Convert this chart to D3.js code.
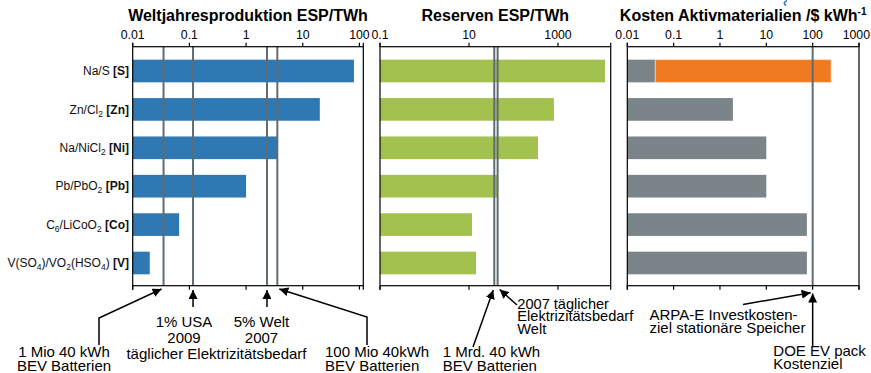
<!DOCTYPE html>
<html>
<head>
<meta charset="utf-8">
<script src="https://cdn.jsdelivr.net/npm/d3@7"></script>
<style>
  body { margin: 0; background: #fff; }
  svg { display: block; font-family: "Liberation Sans", Arial, sans-serif; }
</style>
</head>
<body>
<svg id="chart" width="871" height="373"></svg>
<script>
// categories, "_x" marks a subscript
const categories = ["Na/S", "Zn/Cl_2", "Na/NiCl_2", "Pb/PbO_2", "C_6/LiCoO_2", "V(SO_4)/VO_2(HSO_4)"];
const elements = ["S", "Zn", "Ni", "Pb", "Co", "V"];

const production = [80, 20, 3.6, 1.0, 0.066, 0.020];      // TWh / year
const reserves = [11400, 810, 355, 43, 11.7, 14.4];         // TWh
const costs = [0.04, 1.9, 10, 10, 75, 75];                  // $/kWh
const costNaSTotal = 250;                                   // orange part of Na/S

const productionMarks = [0.035, 0.116, 2.34, 3.56];
const reserveMarks = [37, 44];
const costMarks = [100];

const productionTicks = [0.01, 0.1, 1, 10, 100];
const reserveTicks = [0.1, 10, 1000];
const costTicks = [0.01, 0.1, 1, 10, 100, 1000];

const plotTop = 46.7, plotBottom = 285.7;
const lineColor = "#5f6c73";
const W = 871;

const svg = d3.select("#chart");

svg.append("defs").append("marker")
    .attr("id", "arrow")
    .attr("viewBox", "0 0 10 10")
    .attr("refX", 10).attr("refY", 5)
    .attr("markerWidth", 6).attr("markerHeight", 6)
    .attr("markerUnits", "strokeWidth")
    .attr("orient", "auto")
    .append("path")
    .attr("d", "M0,0L10,5L0,10z")
    .attr("fill", "#000");

const y = d3.scaleBand()
    .domain(d3.range(categories.length))
    .range([52, 282])
    .paddingInner(0.41)
    .paddingOuter(0.2);

const panels = [
    {title: "Weltjahresproduktion ESP/TWh", x0: 132.7, x1: 363.3, domain: [0.01, 117],
     values: production, color: "#2e78b4", ticks: productionTicks, marks: productionMarks},
    {title: "Reserven ESP/TWh", x0: 380, x1: 610.7, domain: [0.1, 15300],
     values: reserves, color: "#a3c14e", ticks: reserveTicks, marks: reserveMarks},
    {title: "Kosten Aktivmaterialien /$ kWh", x0: 627.3, x1: 859, domain: [0.01, 1000],
     values: costs, color: "#7b8589", ticks: costTicks, marks: costMarks, sup: "-1"}
];

panels.forEach(p => {
    p.x = d3.scaleLog().domain(p.domain).range([p.x0, p.x1]);
    const g = svg.append("g");

    // bars
    g.selectAll("rect.bar")
        .data(p.values)
        .join("rect")
        .attr("class", "bar")
        .attr("x", p.x(p.domain[0]))
        .attr("y", (d, i) => y(i))
        .attr("width", d => p.x(d) - p.x(p.domain[0]))
        .attr("height", y.bandwidth())
        .attr("fill", p.color);

    if (p.sup) {
        g.append("rect")
            .attr("x", p.x(costs[0]))
            .attr("y", y(0))
            .attr("width", p.x(costNaSTotal) - p.x(costs[0]))
            .attr("height", y.bandwidth())
            .attr("fill", "#f07a1f")
            .attr("stroke", "#fbd9bd")
            .attr("stroke-width", 0.8);
    }

    // reference lines
    g.selectAll("line.mark")
        .data(p.marks)
        .join("line")
        .attr("class", "mark")
        .attr("x1", d => p.x(d)).attr("x2", d => p.x(d))
        .attr("y1", plotTop).attr("y2", plotBottom)
        .attr("stroke", lineColor)
        .attr("stroke-width", 2);

    // frame
    g.append("rect")
        .attr("x", p.x0).attr("y", plotTop)
        .attr("width", p.x1 - p.x0).attr("height", plotBottom - plotTop)
        .attr("fill", "none")
        .attr("stroke", "#000")
        .attr("stroke-width", 1.2);

    // ticks top & bottom, including the frame ends
    const tickPos = p.ticks.map(p.x).concat([p.x0, p.x1]);
    tickPos.forEach(tx => {
        g.append("line").attr("x1", tx).attr("x2", tx)
            .attr("y1", plotTop - 4).attr("y2", plotTop)
            .attr("stroke", "#000").attr("stroke-width", 1.2);
        g.append("line").attr("x1", tx).attr("x2", tx)
            .attr("y1", plotBottom).attr("y2", plotBottom + 4)
            .attr("stroke", "#000").attr("stroke-width", 1.2);
    });

    g.selectAll("text.tick")
        .data(p.ticks)
        .join("text")
        .attr("class", "tick")
        .attr("x", d => p.x(d))
        .attr("y", 38.5)
        .attr("text-anchor", "middle")
        .attr("font-size", 12.3)
        .text(d => d3.format("~g")(d))
        .each(function () {
            // keep the last label inside the page
            const half = this.getComputedTextLength() / 2;
            const cx = +this.getAttribute("x");
            if (cx + half > W - 1) this.setAttribute("x", W - 1 - half);
        });

    const t = g.append("text")
        .attr("x", (p.x0 + p.x1) / 2)
        .attr("y", 21)
        .attr("text-anchor", "middle")
        .attr("font-size", 16)
        .attr("font-weight", "bold")
        .text(p.title);
    if (p.sup) {
        t.append("tspan").attr("dy", -6).attr("font-size", 10).text(p.sup);
    }
});

// category labels with subscripts and bold element
const labels = svg.append("g")
    .attr("font-size", 12)
    .attr("text-anchor", "end")
    .attr("fill", "#111");

categories.forEach((c, i) => {
    const txt = labels.append("text")
        .attr("x", 129)
        .attr("y", y(i) + y.bandwidth() / 2 + 4.3);
    const parts = c.split(/(_\d)/).filter(s => s.length);
    let shift = 0;
    parts.forEach(s => {
        if (s[0] === "_") {
            txt.append("tspan").attr("dy", 3 - shift).attr("font-size", 8.5).text(s.slice(1));
            shift = 3;
        } else {
            txt.append("tspan").attr("dy", -shift).text(s);
            shift = 0;
        }
    });
    txt.append("tspan").attr("dy", -shift).attr("font-weight", "bold").text(" [" + elements[i] + "]");
});

// annotations
const ann = svg.append("g").attr("font-size", 15);
const px = panels[0].x, rx = panels[1].x, cx = panels[2].x;

function textBlock(lines, x, y0, dy, anchor, size) {
    const t = ann.append("text").attr("text-anchor", anchor);
    if (size) t.attr("font-size", size);
    lines.forEach((l, i) => t.append("tspan").attr("x", x).attr("y", y0 + i * dy).text(l));
}
function arrow(points) {
    ann.append("path")
        .attr("d", d3.line()(points))
        .attr("fill", "none")
        .attr("stroke", "#000")
        .attr("stroke-width", 1.5)
        .attr("marker-end", "url(#arrow)");
}

arrow([[99, 345], [99, 318], [px(productionMarks[0]) - 2, 289]]);
textBlock(["1 Mio 40 kWh", "BEV Batterien"], 64, 357, 14, "middle");

arrow([[px(productionMarks[1]), 307], [px(productionMarks[1]), 290]]);
textBlock(["1% USA", "2009"], 184, 327, 15.5, "middle");
textBlock(["täglicher Elektrizitätsbedarf"], 216.5, 358.5, 14, "middle");

arrow([[px(productionMarks[2]), 307], [px(productionMarks[2]), 290]]);
textBlock(["5% Welt", "2007"], 261.5, 327, 15.5, "middle");

arrow([[367, 345], [367, 317], [px(productionMarks[3]) + 2, 289]]);
textBlock(["100 Mio 40kWh", "BEV Batterien"], 325, 357, 14, "start");

arrow([[473, 347], [rx(reserveMarks[0]) - 1, 290]]);
textBlock(["1 Mrd. 40 kWh", "BEV Batterien"], 442.7, 357, 14, "start");

arrow([[517, 305], [rx(reserveMarks[1]) + 2, 289.5]]);
textBlock(["2007 täglicher", "Elektrizitätsbedarf", "Welt"], 517.3, 308.7, 12.4, "start", 14.6);

arrow([[743, 304.5], [cx(costMarks[0]) - 2, 292.7]]);
textBlock(["ARPA-E Investkosten-", "ziel stationäre Speicher"], 649.5, 319.5, 13.8, "start");

arrow([[cx(costMarks[0]), 346], [cx(costMarks[0]), 293.5]]);
textBlock(["DOE EV pack", "Kostenziel"], 773.3, 356, 13.4, "start");

// small cut-off blue glyph at the top edge
svg.append("path")
    .attr("d", "M787,0.5 Q782,3 786,5.5")
    .attr("fill", "none")
    .attr("stroke", "#2e78b4")
    .attr("stroke-width", 1.5);
</script>
</body>
</html>
